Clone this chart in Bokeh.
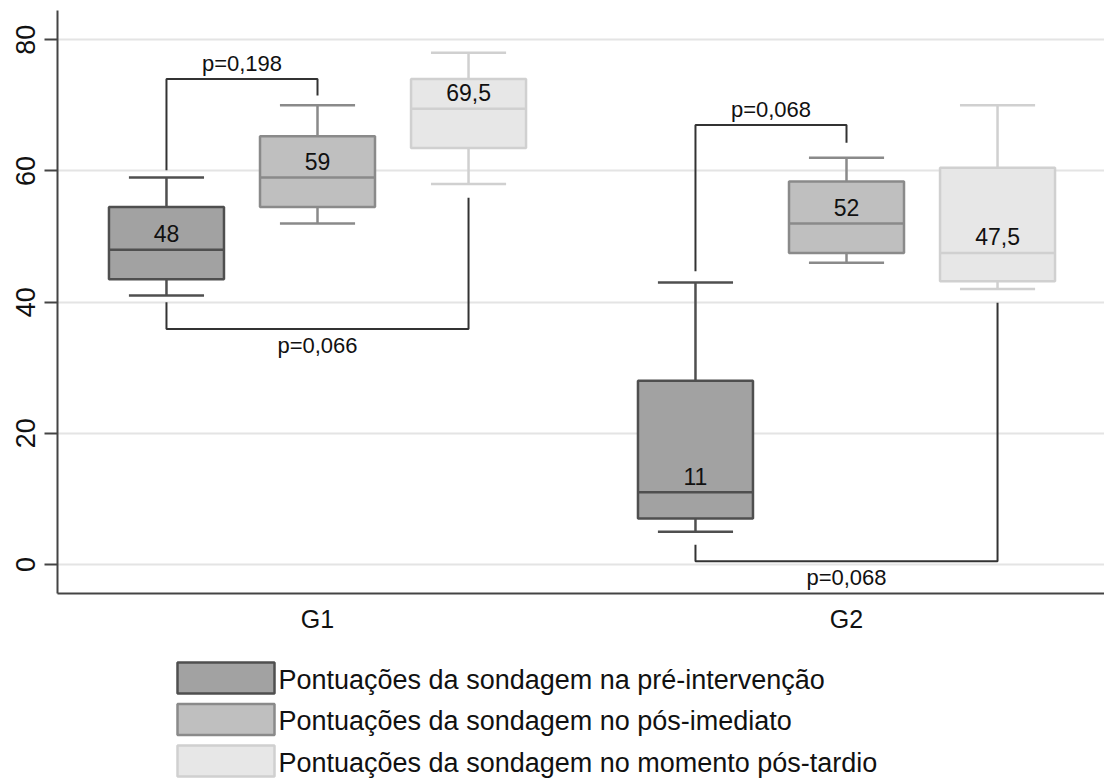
from bokeh.plotting import figure
from bokeh.layouts import column
from bokeh.models import Range1d, FixedTicker, ColumnDataSource
from bokeh.core.properties import value
from bokeh.embed import file_html
from bokeh.resources import INLINE

# ---------------- data ----------------
groups = ["G1", "G2"]
series = [
    "Pontuações da sondagem na pré-intervenção",
    "Pontuações da sondagem no pós-imediato",
    "Pontuações da sondagem no momento pós-tardio",
]
# five-number summaries [G1, G2] per series
pre_min = [41, 5]
pre_q1 = [43.5, 7]
pre_med = [48, 11]
pre_q3 = [54.5, 28]
pre_max = [59, 43]

post_min = [52, 46]
post_q1 = [54.5, 47.5]
post_med = [59, 52]
post_q3 = [65.3, 58.4]
post_max = [70, 62]

late_min = [58, 42]
late_q1 = [63.5, 43.2]
late_med = [69.5, 47.5]
late_q3 = [74, 60.5]
late_max = [78, 70]

# p-value brackets
p_labels = ["p=0,198", "p=0,066", "p=0,068", "p=0,068"]
p_group = [0, 0, 1, 1]
p_from = [0, 0, 0, 0]
p_to = [1, 2, 1, 2]
p_level = [74.0, 35.9, 67.0, 0.5]
p_start_y = [60.1, 40.0, 44.7, 3.0]
p_end_y = [71.5, 55.9, 64.3, 39.9]
p_above = [True, False, True, False]

y_ticks = [0, 20, 40, 60, 80]

# ---------------- styling ----------------
FONT = "Liberation Sans"
W = 1104
H_MAIN = 640
H_LEG = 138
LEFT = 57
fills = ["#a2a2a2", "#bfbfbf", "#e7e7e7"]
edges = ["#4f4f4f", "#8a8a8a", "#d0d0d0"]
offsets = [-0.2855, 0.0, 0.2855]
box_w = 0.2174
cap_w = 0.142

p = figure(width=W, height=H_MAIN, output_backend="svg", toolbar_location=None,
           x_range=Range1d(0.5085, 2.4877), y_range=Range1d(-4.42, 84.46),
           min_border_left=LEFT, min_border_right=0, min_border_top=10,
           min_border_bottom=47)
p.outline_line_color = None
p.background_fill_color = "white"
p.border_fill_color = "white"

# grid
p.xgrid.grid_line_color = None
p.ygrid.ticker = FixedTicker(ticks=y_ticks)
p.ygrid.grid_line_color = "#e4e4e4"
p.ygrid.grid_line_width = 2

# axes
p.yaxis.ticker = FixedTicker(ticks=y_ticks)
p.yaxis.major_label_orientation = "vertical"
p.yaxis.major_label_text_font = FONT
p.yaxis.major_label_text_font_size = "27px"
p.yaxis.major_label_text_color = "#111111"
p.yaxis.major_tick_out = 13
p.yaxis.major_tick_in = 0
p.yaxis.minor_tick_line_color = None
p.yaxis.axis_line_width = 2
p.yaxis.axis_line_color = "#444444"
p.yaxis.major_tick_line_color = "#444444"
p.yaxis.major_tick_line_width = 2
p.yaxis.major_label_standoff = 9

p.xaxis.ticker = FixedTicker(ticks=[1, 2])
p.xaxis.major_label_overrides = {1: groups[0], 2: groups[1]}
p.xaxis.major_label_text_font = FONT
p.xaxis.major_label_text_font_size = "25px"
p.xaxis.major_label_text_color = "#111111"
p.xaxis.major_tick_out = 0
p.xaxis.major_tick_in = 0
p.xaxis.minor_tick_line_color = None
p.xaxis.axis_line_width = 2
p.xaxis.axis_line_color = "#444444"
p.xaxis.major_label_standoff = 11

stats = [
    (pre_min, pre_q1, pre_med, pre_q3, pre_max),
    (post_min, post_q1, post_med, post_q3, post_max),
    (late_min, late_q1, late_med, late_q3, late_max),
]


def fmt(v):
    if float(v).is_integer():
        return str(int(v))
    return ("%g" % v).replace(".", ",")


for s, (mn, q1, md, q3, mx) in enumerate(stats):
    xs = [g + 1 + offsets[s] for g in range(len(groups))]
    src = ColumnDataSource(dict(x=xs, mn=mn, q1=q1, md=md, q3=q3, mx=mx,
                                l=[x - box_w / 2 for x in xs], r=[x + box_w / 2 for x in xs],
                                cl=[x - cap_w / 2 for x in xs], cr=[x + cap_w / 2 for x in xs],
                                lab=[fmt(v) for v in md]))
    # whiskers
    p.segment(x0="x", y0="q3", x1="x", y1="mx", source=src, line_color=edges[s], line_width=2.5)
    p.segment(x0="x", y0="q1", x1="x", y1="mn", source=src, line_color=edges[s], line_width=2.5)
    p.segment(x0="cl", y0="mx", x1="cr", y1="mx", source=src, line_color=edges[s], line_width=2.5)
    p.segment(x0="cl", y0="mn", x1="cr", y1="mn", source=src, line_color=edges[s], line_width=2.5)
    # box
    p.quad(left="l", right="r", top="q3", bottom="q1", source=src,
           fill_color=fills[s], line_color=edges[s], line_width=2.5)
    # median
    p.segment(x0="l", y0="md", x1="r", y1="md", source=src, line_color=edges[s], line_width=2.5)
    # median label
    p.text(x="x", y="md", text="lab", source=src, y_offset=-16,
           text_align="center", text_baseline="middle",
           text_font=value(FONT), text_font_size="23px", text_color="#111111")

# brackets
for i, lab in enumerate(p_labels):
    g = p_group[i]
    x0 = g + 1 + offsets[p_from[i]]
    x1 = g + 1 + offsets[p_to[i]]
    p.line(x=[x0, x0, x1, x1], y=[p_start_y[i], p_level[i], p_level[i], p_end_y[i]],
           line_color="#333333", line_width=2)
    p.text(x=[(x0 + x1) / 2], y=[p_level[i]], text=[lab],
           y_offset=-16 if p_above[i] else 16,
           text_align="center", text_baseline="middle",
           text_font=value(FONT), text_font_size="22px", text_color="#111111")

# ---------------- legend (separate panel; its frame aligns with the main frame) ----------------
leg = figure(width=W, height=H_LEG, output_backend="svg", toolbar_location=None,
             x_range=Range1d(LEFT, W), y_range=Range1d(H_LEG, 0),
             min_border_left=LEFT, min_border_right=0,
             min_border_top=0, min_border_bottom=0)
leg.axis.visible = False
leg.grid.visible = False
leg.outline_line_color = None
leg.background_fill_color = "white"
leg.border_fill_color = "white"

box_left, box_right = 177, 274
tops = [22 + 41.5 * i for i in range(len(series))]
leg.quad(left=[box_left] * 3, right=[box_right] * 3, top=tops, bottom=[t + 31 for t in tops],
         fill_color=fills, line_color=edges, line_width=2.5)
leg.text(x=[278] * 3, y=[t + 17 for t in tops], text=series,
         text_align="left", text_baseline="middle",
         text_font=value(FONT), text_font_size="27px", text_color="#111111")

layout = column(p, leg, spacing=0)
open("out.html", "w").write(file_html(layout, INLINE))
